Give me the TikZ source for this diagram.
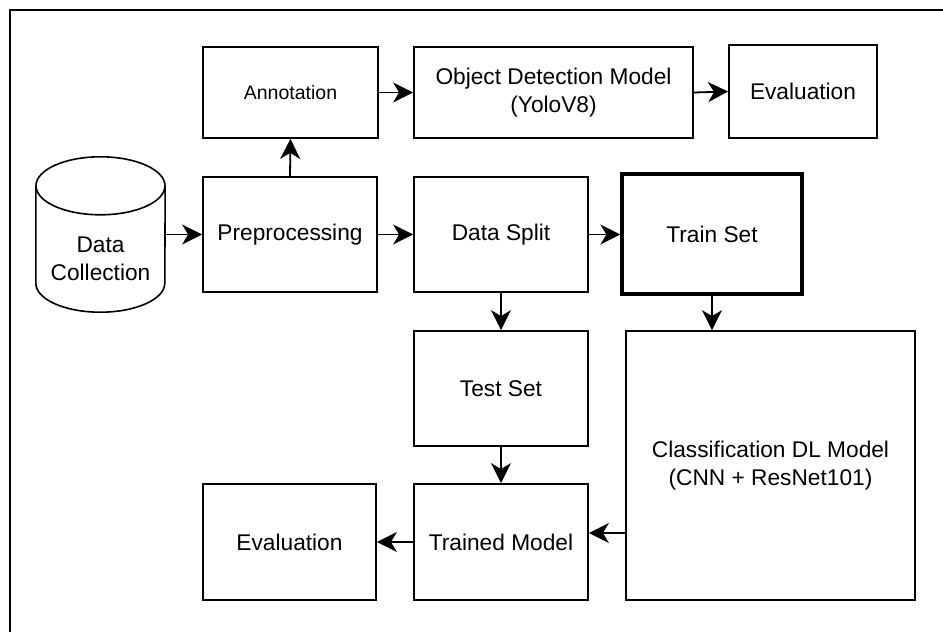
\documentclass[tikz,border=0pt]{standalone}
\usepackage{fontspec}
\setmainfont{Liberation Sans}
\usepackage{tikz}
\usetikzlibrary{arrows.meta,positioning,calc}

\begin{document}
\begin{tikzpicture}[x=1pt,y=-1pt,
  blk/.style={draw,line width=1.8pt,minimum width=174pt,minimum height=115pt,
    align=center,inner sep=2pt,font=\fontsize{22.7}{28}\selectfont},
  arr/.style={line width=1.8pt,-{Stealth[length=20pt,width=20pt,inset=6pt]}}]
  \useasboundingbox (0,0) rectangle (943,632);
  % Frame of the screenshot
  \draw[line width=1.2pt] (943,10) -- (10,10) -- (10,632);
  % Data collection (cylinder)
  \node[minimum width=129pt,minimum height=155pt,inner sep=0pt] (dc) at (100.5,234.5) {};
  \draw[line width=1.6pt] ($(dc.north)+(0,29)$) ellipse [x radius=64.5pt,y radius=29pt];
  \draw[line width=1.6pt] ($(dc.north west)+(0,29)$) -- ($(dc.south west)-(0,29)$)
    arc[start angle=180,end angle=360,x radius=64.5pt,y radius=29pt]
    -- ($(dc.north east)+(0,29)$);
  \node[align=center,font=\fontsize{22.7}{28}\selectfont] at (100.5,259) {Data\\Collection};
  % Top row
  \node[blk,minimum width=175pt,minimum height=91pt,font=\fontsize{19.5}{24}\selectfont] (ann) at (290.5,92.5) {Annotation};
  \node[blk,minimum width=279pt,minimum height=91pt] (odm) at (553.5,92.5) {Object Detection Model\\(YoloV8)};
  \node[blk,minimum width=148pt,minimum height=93pt] (ev1) at (803,91.5) {Evaluation};
  % Middle row
  \node[blk] (pre) at (290,234.5) {Preprocessing};
  \node[blk] (ds) at (501,234.5) {Data Split};
  \node[blk,line width=3.2pt,minimum width=180pt,minimum height=120pt] (trs) at (712,234) {Train Set};
  % Lower part
  \node[blk] (tes) at (501,388.5) {Test Set};
  \node[blk,minimum width=289pt,minimum height=269pt] (cls) at (770.5,465.5) {Classification DL Model\\(CNN + ResNet101)};
  \node[blk,minimum height=116pt] (tm) at (501,542) {Trained Model};
  \node[blk,minimum width=173pt,minimum height=116pt] (ev2) at (289.5,542) {Evaluation};
  % Connectors
  \draw[arr] (dc.east) -- (pre.west);
  \draw[arr] (pre.north) -- (ann.south);
  \draw[arr] (ann.east) -- (odm.west);
  \draw[arr] (odm.east) -- (ev1.west);
  \draw[arr] (pre.east) -- (ds.west);
  \draw[arr] (ds.east) -- (ds.east -| trs.west);
  \draw[arr] (ds.south) -- (tes.north);
  \draw[arr] (trs.south) -- (trs.south |- cls.north);
  \draw[arr] (tes.south) -- (tm.north);
  \coordinate (tmin) at ([yshift=9pt]tm.east);
  \draw[arr] (cls.west |- tmin) -- (tmin);
  \draw[arr] (tm.west) -- (ev2.east);
\end{tikzpicture}
\end{document}
